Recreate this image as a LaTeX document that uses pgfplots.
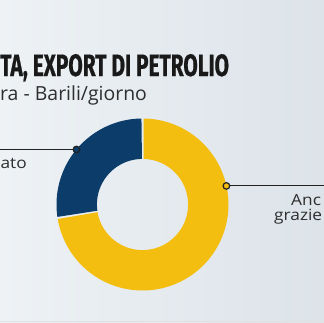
\documentclass[border=0pt]{standalone}
\usepackage{pgfplots}
\pgfplotsset{compat=1.18}
\usepackage{fontspec}
\setmainfont{Open Sans}
\newfontfamily\titlefont[FakeStretch=0.675, FakeBold=0.6]{Fira Sans}
\newfontfamily\labelfont[FakeStretch=1.12]{Open Sans}
\definecolor{navyc}{HTML}{0B3C6A}
\definecolor{yell}{HTML}{F4BE10}
\definecolor{bgl}{HTML}{EEF2F5}
\definecolor{bgr}{HTML}{DCE3E9}
\definecolor{ink}{HTML}{222222}
\definecolor{txt}{HTML}{2E2E2E}
% shares (percent)
\pgfplotstableread{
name share
Navy 27.5
Yellow 72.5
}\shares
\begin{document}
\begin{tikzpicture}[x=1bp,y=1bp]
\clip (0,0) rectangle (324,323);
\shade[left color=bgl, right color=bgr] (0,0) rectangle (324,323);
\draw[color=black!12, line width=0.8bp] (0,1.5) -- (324,1.5);
\draw[ink, line width=1.2bp] (0,173.6) -- (76,173.6);
\draw[ink, line width=1.2bp] (226,137.1) -- (324,137.1);
\pgfplotstablegetelem{0}{share}\of\shares
\pgfmathsetmacro\sA{\pgfplotsretval}
\pgfmathsetmacro\gap{0.7}
\pgfmathsetmacro\aA{90+\gap}
\pgfmathsetmacro\bA{90+3.6*\sA-\gap}
\pgfmathsetmacro\aB{90+3.6*\sA+\gap}
\pgfmathsetmacro\bB{450-\gap}
\begin{axis}[at={(142.5bp,118.5bp)}, anchor=center, width=172bp, height=172bp,
  scale only axis, xmin=-1, xmax=1, ymin=-1, ymax=1, hide axis, clip=false]
\addplot[fill=navyc, draw=none, domain=0:2, samples=401, variable=\t]
  ({((\t<=1) ? 1 : 0.53)*cos(((\t<=1) ? (\aA+(\bA-\aA)*\t) : (\bA-(\bA-\aA)*(\t-1))))},
   {((\t<=1) ? 1 : 0.53)*sin(((\t<=1) ? (\aA+(\bA-\aA)*\t) : (\bA-(\bA-\aA)*(\t-1))))});
\addplot[fill=yell, draw=none, domain=0:2, samples=601, variable=\t]
  ({((\t<=1) ? 1 : 0.53)*cos(((\t<=1) ? (\aB+(\bB-\aB)*\t) : (\bB-(\bB-\aB)*(\t-1))))},
   {((\t<=1) ? 1 : 0.53)*sin(((\t<=1) ? (\aB+(\bB-\aB)*\t) : (\bB-(\bB-\aB)*(\t-1))))});
\addplot[only marks, mark=*, mark size=3.3bp, mark options={fill=navyc, draw=ink, line width=1.2bp}]
  coordinates {(-0.768,0.640)};
\addplot[only marks, mark=*, mark size=3.3bp, mark options={fill=yell, draw=ink, line width=1.2bp}]
  coordinates {(0.976,0.216)};
\end{axis}
\node[anchor=base west, inner sep=0, text=black!90] at (0,247)
  {\titlefont\bfseries\fontsize{31}{31}\selectfont TA, EXPORT DI PETROLIO};
\node[anchor=base west, inner sep=0, text=txt] at (0,223)
  {\fontsize{19.5}{19.5}\selectfont ra - Barili/giorno};
\node[anchor=base east, inner sep=0, text=txt] at (27,155)
  {\labelfont\fontsize{15.5}{15.5}\selectfont ato};
\node[anchor=base west, inner sep=0, text=txt] at (291,118)
  {\labelfont\fontsize{15.5}{15.5}\selectfont Anc};
\node[anchor=base west, inner sep=0, text=txt] at (274,103)
  {\labelfont\fontsize{15.5}{15.5}\selectfont grazie};
\end{tikzpicture}
\end{document}
